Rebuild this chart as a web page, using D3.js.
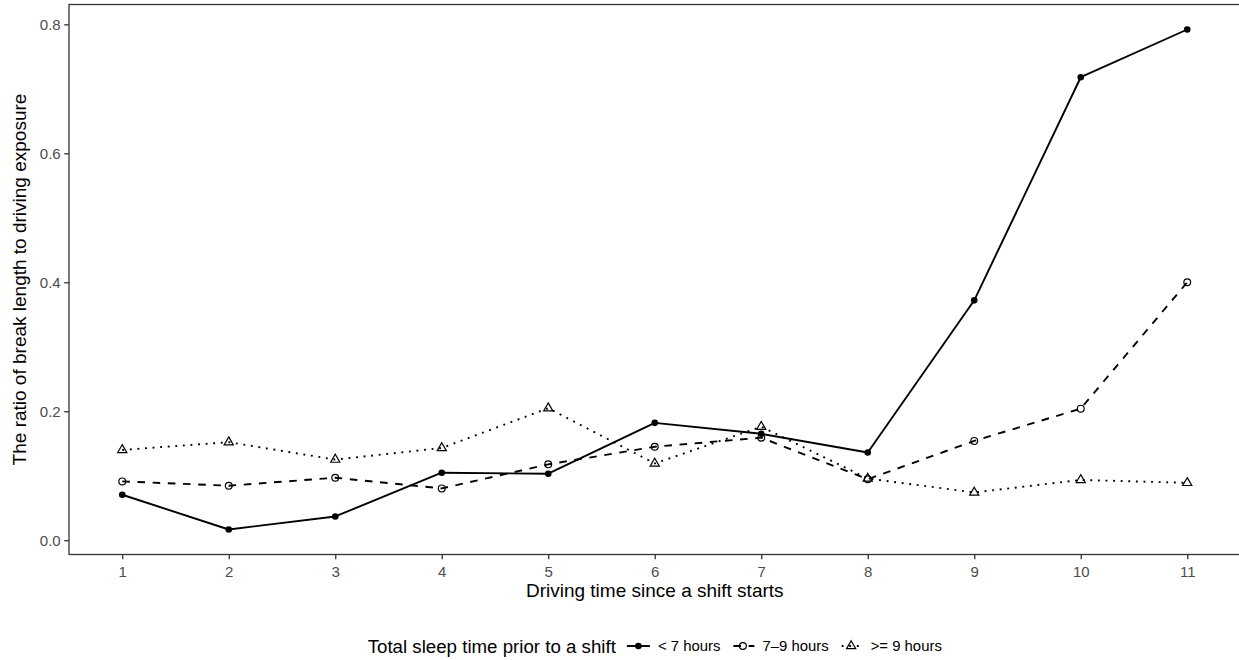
<!DOCTYPE html>
<html>
<head>
<meta charset="utf-8">
<script src="https://cdn.jsdelivr.net/npm/d3@7"></script>
<style>
  html, body { margin: 0; padding: 0; background: #fff; }
  svg { display: block; }
  text { font-family: "Liberation Sans", Arial, sans-serif; }
</style>
</head>
<body>
<svg id="chart" width="1239" height="660"></svg>
<script>
// ---- data ----
const driveHours = [1, 2, 3, 4, 5, 6, 7, 8, 9, 10, 11];
const sleepLt7  = [0.0705, 0.0166, 0.0368, 0.1047, 0.1031, 0.182, 0.165, 0.136, 0.372, 0.718, 0.792];
const sleep7to9 = [0.0912, 0.0845, 0.0969, 0.0803, 0.1176, 0.145, 0.159, 0.0946, 0.154, 0.204, 0.400];
const sleepGe9  = [0.140, 0.152, 0.125, 0.143, 0.2047, 0.119, 0.176, 0.0957, 0.074, 0.0935, 0.0889];
const seriesNames = ["< 7 hours", "7\u20139 hours", ">= 9 hours"];
const yTicks = [0.0, 0.2, 0.4, 0.6, 0.8];
const xTicks = driveHours;
const xTitle = "Driving time since a shift starts";
const yTitle = "The ratio of break length to driving exposure";
const legendTitle = "Total sleep time prior to a shift";

// ---- layout ----
const panel = { left: 69, right: 1240.5, top: 4.5, bottom: 554.5 };
const svg = d3.select("#chart");

const series = [
  { name: seriesNames[0], values: sleepLt7,  dash: null,        shape: "dot" },
  { name: seriesNames[1], values: sleep7to9, dash: "7.6,7.6",   shape: "circle" },
  { name: seriesNames[2], values: sleepGe9,  dash: "1.9,5.7",   shape: "triangle" }
];

const allVals = series.flatMap(s => s.values);
const [ymin, ymax] = d3.extent(allVals);
const yexp = (ymax - ymin) * 0.05;
const [xmin, xmax] = d3.extent(driveHours);
const xexp = (xmax - xmin) * 0.05;

const x = d3.scaleLinear().domain([xmin - xexp, xmax + xexp]).range([panel.left, panel.right]);
const y = d3.scaleLinear().domain([ymin - yexp, ymax + yexp]).range([panel.bottom, panel.top]);

const ink = "#000000";
const lw = 1.9;

// panel border
svg.append("rect")
  .attr("x", panel.left).attr("y", panel.top)
  .attr("width", panel.right - panel.left).attr("height", panel.bottom - panel.top)
  .attr("fill", "none").attr("stroke", "#333333").attr("stroke-width", 1.3);

// axes
const xAxis = d3.axisBottom(x).tickValues(xTicks).tickFormat(d3.format("d")).tickSizeOuter(0).tickSize(4.8).tickPadding(3);
const gx = svg.append("g").attr("transform", `translate(0,${panel.bottom})`).call(xAxis);
gx.select(".domain").remove();
gx.selectAll(".tick line").attr("stroke", "#333333").attr("stroke-width", 1.3);
gx.selectAll(".tick text").attr("fill", "#4D4D4D").attr("font-size", "15px")
  .attr("font-family", "Liberation Sans, Arial, sans-serif").attr("dy", "0.95em");

const yAxis = d3.axisLeft(y).tickValues(yTicks).tickFormat(d3.format(".1f")).tickSizeOuter(0).tickSize(4.8).tickPadding(3.5);
const gy = svg.append("g").attr("transform", `translate(${panel.left},0)`).call(yAxis);
gy.select(".domain").remove();
gy.selectAll(".tick line").attr("stroke", "#333333").attr("stroke-width", 1.3);
gy.selectAll(".tick text").attr("fill", "#4D4D4D").attr("font-size", "15px")
  .attr("font-family", "Liberation Sans, Arial, sans-serif").attr("dy", "0.35em");

// axis titles
svg.append("text").attr("x", (panel.left + panel.right) / 2).attr("y", 597)
  .attr("text-anchor", "middle").attr("font-size", "19px").attr("fill", ink).text(xTitle);
svg.append("text")
  .attr("transform", `translate(26,${(panel.top + panel.bottom) / 2}) rotate(-90)`)
  .attr("text-anchor", "middle").attr("font-size", "19px").attr("fill", ink).text(yTitle);

// lines
const line = d3.line().x((d, i) => x(driveHours[i])).y(d => y(d));
const plot = svg.append("g");
series.forEach(s => {
  plot.append("path").datum(s.values)
    .attr("d", line)
    .attr("fill", "none").attr("stroke", ink).attr("stroke-width", lw)
    .attr("stroke-dasharray", s.dash)
    .attr("stroke-linejoin", "round").attr("stroke-linecap", "butt");
});

// point glyphs
function drawPoint(g, shape, cx, cy) {
  if (shape === "dot") {
    g.append("circle").attr("cx", cx).attr("cy", cy).attr("r", 3.3).attr("fill", ink);
  } else if (shape === "circle") {
    g.append("circle").attr("cx", cx).attr("cy", cy).attr("r", 3.4)
      .attr("fill", "none").attr("stroke", ink).attr("stroke-width", 1.2);
  } else {
    const R = 3.4;
    const r = 1.555 * R, xc = 1.3468 * R, yc = 0.7776 * R;
    g.append("path")
      .attr("d", `M${cx},${cy - r}L${cx + xc},${cy + yc}L${cx - xc},${cy + yc}Z`)
      .attr("fill", "none").attr("stroke", ink).attr("stroke-width", 1.2).attr("stroke-linejoin", "miter");
  }
}
series.forEach(s => {
  const g = plot.append("g");
  s.values.forEach((v, i) => drawPoint(g, s.shape, x(driveHours[i]), y(v)));
});

// legend
const leg = svg.append("g");
const legY = 646;
const tTitle = leg.append("text").attr("y", legY).attr("dy", "0.35em")
  .attr("font-size", "18.7px").attr("fill", ink).text(legendTitle);
const titleW = tTitle.node().getComputedTextLength();
const keyW = 23, gapTitle = 11, gapKeyLabel = 8, gapItems = 11;
const labels = series.map(s => leg.append("text").attr("y", legY).attr("dy", "0.35em")
  .attr("font-size", "14.9px").attr("fill", ink).text(s.name));
const labelW = labels.map(t => t.node().getComputedTextLength());
const totalW = titleW + gapTitle + series.length * (keyW + gapKeyLabel) + d3.sum(labelW) + (series.length - 1) * gapItems;
let cur = (panel.left + panel.right) / 2 - totalW / 2;
tTitle.attr("x", cur);
cur += titleW + gapTitle;
series.forEach((s, i) => {
  leg.append("line").attr("x1", cur).attr("x2", cur + keyW).attr("y1", legY).attr("y2", legY)
    .attr("stroke", ink).attr("stroke-width", lw).attr("stroke-dasharray", s.dash)
    .attr("stroke-dashoffset", s.dash ? -2 : null);
  drawPoint(leg, s.shape, cur + keyW / 2, legY);
  cur += keyW + gapKeyLabel;
  labels[i].attr("x", cur);
  cur += labelW[i] + gapItems;
});
</script>
</body>
</html>
